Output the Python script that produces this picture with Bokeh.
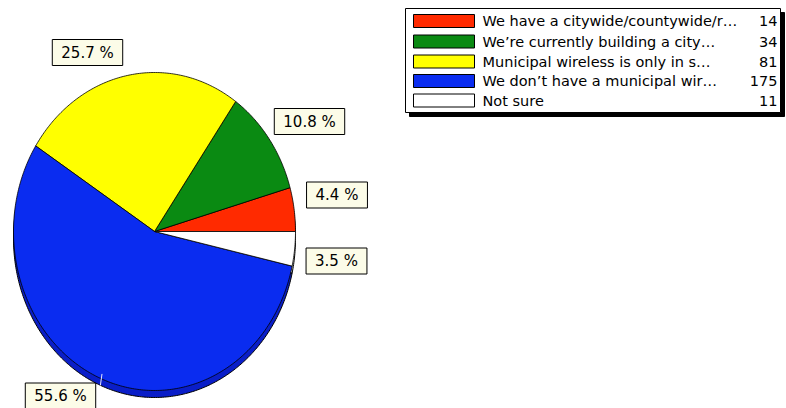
import numpy as np
from bokeh.plotting import figure
from bokeh.models import Range1d, Label
from bokeh.embed import file_html
from bokeh.resources import INLINE

# ---- data ----
categories = [
    "We have a citywide/countywide/r\u2026",
    "We\u2019re currently building a city\u2026",
    "Municipal wireless is only in s\u2026",
    "We don\u2019t have a municipal wir\u2026",
    "Not sure",
]
counts = [14, 34, 81, 175, 11]
top_colors = ["#ff2a00", "#0a8a12", "#ffff00", "#0a2cf0", "#ffffff"]
side_colors = ["#c02000", "#056008", "#c8c800", "#0a1ec8", "#d8d8d8"]

# ---- layout (pixels) ----
W, H = 786, 408
CX, CY, RX, RY, DEPTH = 154, 231, 141, 159, 7


def X(px):
    return (px - CX) / RX


def Y(py):
    return (CY - py) / RY


p = figure(width=W, height=H, output_backend="svg", toolbar_location=None,
           x_range=Range1d(X(0), X(W)), y_range=Range1d(Y(H), Y(0)),
           min_border=0, outline_line_color=None)
p.axis.visible = False
p.grid.visible = False
p.background_fill_color = "white"
p.border_fill_color = "white"

total = sum(counts)
fracs = [c / total for c in counts]
starts = np.cumsum([0] + fracs[:-1]) * 2 * np.pi
ends = np.cumsum(fracs) * 2 * np.pi


def wedge(a0, a1, dy=0.0):
    t = np.linspace(a0, a1, max(8, int((a1 - a0) * 80)))
    xs = np.concatenate([[0.0], np.cos(t), [0.0]])
    ys = np.concatenate([[0.0], np.sin(t), [0.0]]) + dy
    return list(xs), list(ys)


# side (3D depth)
sx, sy = [], []
for a0, a1 in zip(starts, ends):
    xs, ys = wedge(a0, a1, -DEPTH / RY)
    sx.append(xs)
    sy.append(ys)
p.patches(sx, sy, fill_color=side_colors, line_color="black", line_width=1)

# top faces
tx, ty = [], []
for a0, a1 in zip(starts, ends):
    xs, ys = wedge(a0, a1)
    tx.append(xs)
    ty.append(ys)
p.patches(tx, ty, fill_color=top_colors, line_color="black", line_width=1, line_alpha=0.8)

# leader tick for the large slice label
mid_blue = (starts[3] + ends[3]) / 2
p.segment(x0=[np.cos(mid_blue) * 1.0], y0=[np.sin(mid_blue) * 1.0 - DEPTH / RY],
          x1=[np.cos(mid_blue) * 0.97], y1=[np.sin(mid_blue) * 0.97],
          line_color="#e8e8ff", line_width=1)

# ---- percentage labels ----
label_pos = [(336.5, 194.5), (309, 121), (87, 52), (60, 395.5), (336, 260.5)]
for f, (lx, ly) in zip(fracs, label_pos):
    p.add_layout(Label(x=X(lx), y=Y(ly), text=f"{f*100:.1f} %",
                       text_align="center", text_baseline="middle",
                       text_font="DejaVu Sans", text_font_size="15px",
                       text_color="black",
                       background_fill_color="#fcfce8",
                       border_line_color="black", border_line_width=1,
                       padding=(9, 4)))

# ---- legend ----
LX0, LX1, LY0, LY1 = 405, 780, 8, 112
p.quad(left=[X(LX0 + 4)], right=[X(LX1 + 4)], top=[Y(LY0 + 4)], bottom=[Y(LY1 + 4)],
       fill_color="black", line_color="black")
p.quad(left=[X(LX0)], right=[X(LX1)], top=[Y(LY0)], bottom=[Y(LY1)],
       fill_color="white", line_color="black", line_width=1)
row_y = [20.5, 41, 61, 80.5, 100]
p.quad(left=[X(413)] * 5, right=[X(474)] * 5,
       top=[Y(r - 6.5) for r in row_y], bottom=[Y(r + 6.5) for r in row_y],
       fill_color=top_colors, line_color="black", line_width=1)
for name, c, r in zip(categories, counts, row_y):
    p.add_layout(Label(x=X(482), y=Y(r), text=name, text_align="left",
                       text_baseline="middle", text_font="DejaVu Sans",
                       text_font_size="14.5px", text_color="black"))
    p.add_layout(Label(x=X(777), y=Y(r), text=str(c), text_align="right",
                       text_baseline="middle", text_font="DejaVu Sans",
                       text_font_size="14.5px", text_color="black"))

open("out.html", "w").write(file_html(p, INLINE))
